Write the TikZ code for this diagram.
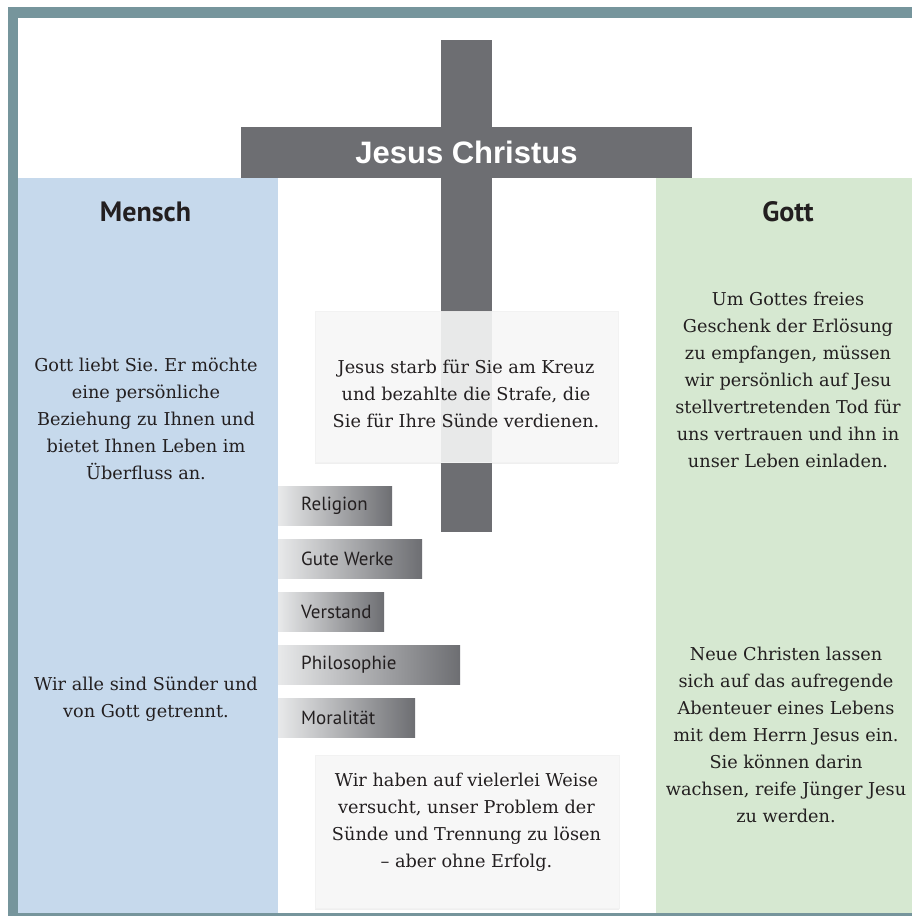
\documentclass[tikz,border=0pt]{standalone}
\usepackage{fontspec}
\setmainfont{DejaVu Serif}
\newfontfamily\headfont{PT Sans}
\newfontfamily\crossfont{Liberation Sans}
\usetikzlibrary{shadows}
\definecolor{framecol}{HTML}{76959C}
\definecolor{menschcol}{HTML}{C6D9EC}
\definecolor{gottcol}{HTML}{D6E8D1}
\definecolor{crosscol}{HTML}{6D6E72}
\definecolor{boxcol}{HTML}{F7F7F7}
\definecolor{inkcol}{HTML}{231F20}
\definecolor{barlight}{HTML}{E8E9EA}
\frenchspacing
\begin{document}
\begin{tikzpicture}[x=1pt,y=-1pt,inner sep=0pt,
    bodytext/.style={align=center,text=inkcol,font=\fontsize{17.7}{27}\selectfont},
    headtext/.style={text=inkcol,font=\headfont\bfseries\fontsize{28}{30}\selectfont},
    bartext/.style={anchor=west,text=inkcol,font=\headfont\fontsize{19}{22}\selectfont},
    barbox/.style={anchor=west,minimum height=39pt,left color=barlight,right color=crosscol},
    textbox/.style={fill=boxcol,draw=black!5,line width=0.6pt,
        drop shadow={shadow xshift=0pt,shadow yshift=-1.5pt,opacity=0.12}}]
\useasboundingbox (0,0) rectangle (912,916);
% frame and columns
\fill[framecol] (8,7) rectangle (912,916);
\fill[white] (18,18) rectangle (912,913);
\fill[menschcol] (18,178) rectangle (278,913);
\fill[gottcol] (656,178) rectangle (912,913);
% cross
\fill[crosscol] (441,40) rectangle (492,532);
\node[fill=crosscol,minimum width=451pt,minimum height=51pt,text=white,
    font=\crossfont\bfseries\fontsize{31}{33}\selectfont] (christus) at (466.5,152.5) {Jesus Christus};
% headings
\node[headtext] (mensch) at (145.5,212) {Mensch};
\node[headtext] (gott) at (788,212) {Gott};
% left column
\node[bodytext] (liebe) at (146,418.5) {Gott liebt Sie. Er möchte\\eine persönliche\\Beziehung zu Ihnen und\\bietet Ihnen Leben im\\Überfluss an.};
\node[bodytext] (suender) at (146,699.5) {Wir alle sind Sünder und\\von Gott getrennt.};
% right column
\node[bodytext] (geschenk) at (788,380) {Um Gottes freies\\Geschenk der Erlösung\\zu empfangen, müssen\\wir persönlich auf Jesu\\stellvertretenden Tod für\\uns vertrauen und ihn in\\unser Leben einladen.};
\node[bodytext] (christen) at (786,734.5) {Neue Christen lassen\\sich auf das aufregende\\Abenteuer eines Lebens\\mit dem Herrn Jesus ein.\\Sie können darin\\wachsen, reife Jünger Jesu\\zu werden.};
% middle boxes
\draw[textbox] (315,311) rectangle (618,462);
\fill[crosscol,opacity=0.1] (441,311.3) rectangle (492,461.7);
\node[bodytext] (kreuz) at (466,393.5) {Jesus starb für Sie am Kreuz\\und bezahlte die Strafe, die\\Sie für Ihre Sünde verdienen.};
\draw[textbox] (315,755) rectangle (619,908);
\node[bodytext] (versuch) at (466.5,822) {Wir haben auf vielerlei Weise\\versucht, unser Problem der\\Sünde und Trennung zu lösen\\– aber ohne Erfolg.};
% ways of man
\node[barbox,minimum width=114pt] (religion) at (278,505.5) {};
\node[bartext] at ([xshift=23pt]religion.west) {Religion};
\node[barbox,minimum width=144pt] (werke) at (278,558.5) {};
\node[bartext] at ([xshift=23pt]werke.west) {Gute Werke};
\node[barbox,minimum width=106pt] (verstand) at (278,611.5) {};
\node[bartext] at ([xshift=23pt]verstand.west) {Verstand};
\node[barbox,minimum width=182pt] (philosophie) at (278,664.5) {};
\node[bartext] at ([xshift=23pt]philosophie.west) {Philosophie};
\node[barbox,minimum width=137pt] (moral) at (278,717.5) {};
\node[bartext] at ([xshift=23pt]moral.west) {Moralität};
\end{tikzpicture}
\end{document}
